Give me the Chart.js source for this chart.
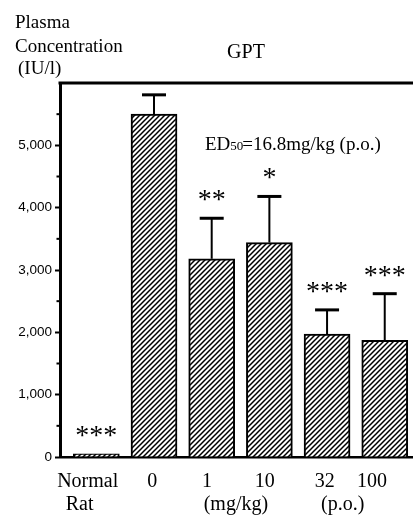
<!DOCTYPE html>
<html>
<head>
<meta charset="utf-8">
<script src="https://cdn.jsdelivr.net/npm/chart.js@4.4.1/dist/chart.umd.min.js"></script>
<style>
  html, body { margin: 0; padding: 0; background: #fff; }
  #wrap { width: 413px; height: 518px; }
</style>
</head>
<body>
<div id="wrap"><canvas id="chart" width="413" height="518"></canvas></div>
<script>
// values (IU/l)
const groups = ["Normal Rat", "0", "1", "10", "32", "100"];
const gptMean = [50, 5500, 3180, 3440, 1970, 1870];
const gptMeanPlusSE = [50, 5810, 3830, 4180, 2360, 2620];
const marks = ["***", "", "**", "*", "***", "***"];

// axis text, placed as in the original figure
const xTickValues = [-0.15, -0.29, 0.97, 1.92, 2.42, 2.92, 3.96, 4.27, 4.78];
const xTickText = ["Normal", ["", "Rat"], "0", "1", ["", "(mg/kg)"], "10", "32", ["", "(p.o.)"], "100"];
const yMinorTicks = [500, 1500, 2500, 3500, 4500, 5500];
const yTitle = ["Plasma", "Concentration", "(IU/l)"];
const chartTitle = "GPT";
const ed50Text = ["ED", "50", "=16.8mg/kg (p.o.)"];

const SERIF = "'Liberation Serif', 'Times New Roman', serif";
const SANS = "'Liberation Sans', Arial, sans-serif";

function hatch() {
  const n = 5;
  const c = document.createElement("canvas");
  c.width = c.height = n;
  const g = c.getContext("2d");
  g.fillStyle = "#fff";
  g.fillRect(0, 0, n, n);
  g.strokeStyle = "#000";
  g.lineWidth = 1.5;
  g.beginPath();
  g.moveTo(-1, n + 1); g.lineTo(n + 1, -1);
  g.moveTo(-1, 1); g.lineTo(1, -1);
  g.moveTo(n - 1, n + 1); g.lineTo(n + 1, n - 1);
  g.stroke();
  return g.createPattern(c, "repeat");
}

// error bars, significance stars, frame top, minor ticks
const extras = {
  id: "extras",
  afterDatasetsDraw(chart) {
    const { ctx, chartArea, scales: { y } } = chart;
    const bars = chart.getDatasetMeta(0).data;
    ctx.save();
    ctx.strokeStyle = "#000";
    ctx.fillStyle = "#000";
    bars.forEach((bar, i) => {
      const top = y.getPixelForValue(gptMeanPlusSE[i]);
      if (gptMeanPlusSE[i] > gptMean[i]) {
        ctx.lineWidth = 2;
        ctx.beginPath();
        ctx.moveTo(bar.x, bar.y);
        ctx.lineTo(bar.x, top);
        ctx.stroke();
        ctx.lineWidth = 3;
        ctx.beginPath();
        ctx.moveTo(bar.x - 12, top);
        ctx.lineTo(bar.x + 12, top);
        ctx.stroke();
      }
      if (marks[i]) {
        ctx.font = "28px " + SERIF;
        ctx.textAlign = "center";
        ctx.textBaseline = "alphabetic";
        ctx.fillText(marks[i], bar.x, Math.min(top, bar.y) - 23 + 13);
      }
    });

    // top frame line
    ctx.lineWidth = 3;
    ctx.beginPath();
    ctx.moveTo(chartArea.left - 1.5, chartArea.top);
    ctx.lineTo(chartArea.right, chartArea.top);
    ctx.stroke();

    // minor ticks
    yMinorTicks.forEach(v => {
      const py = y.getPixelForValue(v);
      ctx.fillRect(chartArea.left - 3.5, py - 1, 2.5, 2);
    });
    ctx.restore();
  },
  afterDraw(chart) {
    const { ctx } = chart;
    ctx.save();
    ctx.fillStyle = "#000";
    ctx.textBaseline = "alphabetic";
    ctx.textAlign = "left";
    ctx.font = "19px " + SERIF;
    ctx.fillText(yTitle[0], 15, 28);
    ctx.fillText(yTitle[1], 15, 52);
    ctx.fillText(yTitle[2], 18, 74);

    ctx.font = "20px " + SERIF;
    ctx.textAlign = "center";
    ctx.fillText(chartTitle, 246, 58);

    ctx.textAlign = "left";
    let x = 205;
    const base = 150;
    ctx.font = "19px " + SERIF;
    ctx.fillText(ed50Text[0], x, base);
    x += ctx.measureText(ed50Text[0]).width;
    ctx.font = "13px " + SERIF;
    ctx.fillText(ed50Text[1], x, base);
    x += ctx.measureText(ed50Text[1]).width - 1;
    ctx.font = "19px " + SERIF;
    ctx.fillText(ed50Text[2], x, base);
    ctx.restore();
  }
};

new Chart(document.getElementById("chart"), {
  type: "bar",
  data: {
    labels: groups,
    datasets: [{
      label: "GPT",
      data: gptMean.map((v, i) => ({ x: i, y: v })),
      backgroundColor: hatch(),
      borderColor: "#000",
      borderWidth: 2,
      barThickness: 46
    }]
  },
  options: {
    responsive: false,
    animation: false,
    devicePixelRatio: 1,
    layout: { padding: { top: 83, left: 0, right: 0, bottom: 0 } },
    plugins: { legend: { display: false }, tooltip: { enabled: false }, title: { display: false } },
    scales: {
      x: {
        type: "linear",
        offset: false,
        min: -0.63,
        max: 5.49,
        bounds: "data",
        afterBuildTicks: s => { s.ticks = xTickValues.map(v => ({ value: v })); },
        afterFit: s => { s.height = 61; },
        ticks: {
          autoSkip: false,
          maxRotation: 0,
          minRotation: 0,
          padding: 5,
          color: "#000",
          font: { family: SERIF, size: 20, lineHeight: 1.15 },
          callback: (v, i) => xTickText[i]
        },
        grid: { display: false, offset: false },
        border: { display: true, color: "#000", width: 2.5 }
      },
      y: {
        min: 0,
        max: 6000,
        afterFit: s => { s.width = 60; },
        ticks: {
          stepSize: 1000,
          padding: 3,
          color: "#000",
          font: { family: SANS, size: 13.5 },
          callback: v => (v < 6000 ? v.toLocaleString("en-US") : "")
        },
        grid: {
          display: true,
          drawOnChartArea: false,
          drawTicks: true,
          tickLength: 5,
          tickWidth: 2,
          tickColor: c => (c.tick && c.tick.value >= 6000 ? "rgba(0,0,0,0)" : "#000")
        },
        border: { display: true, color: "#000", width: 3 }
      }
    }
  },
  plugins: [extras]
});
</script>
</body>
</html>
